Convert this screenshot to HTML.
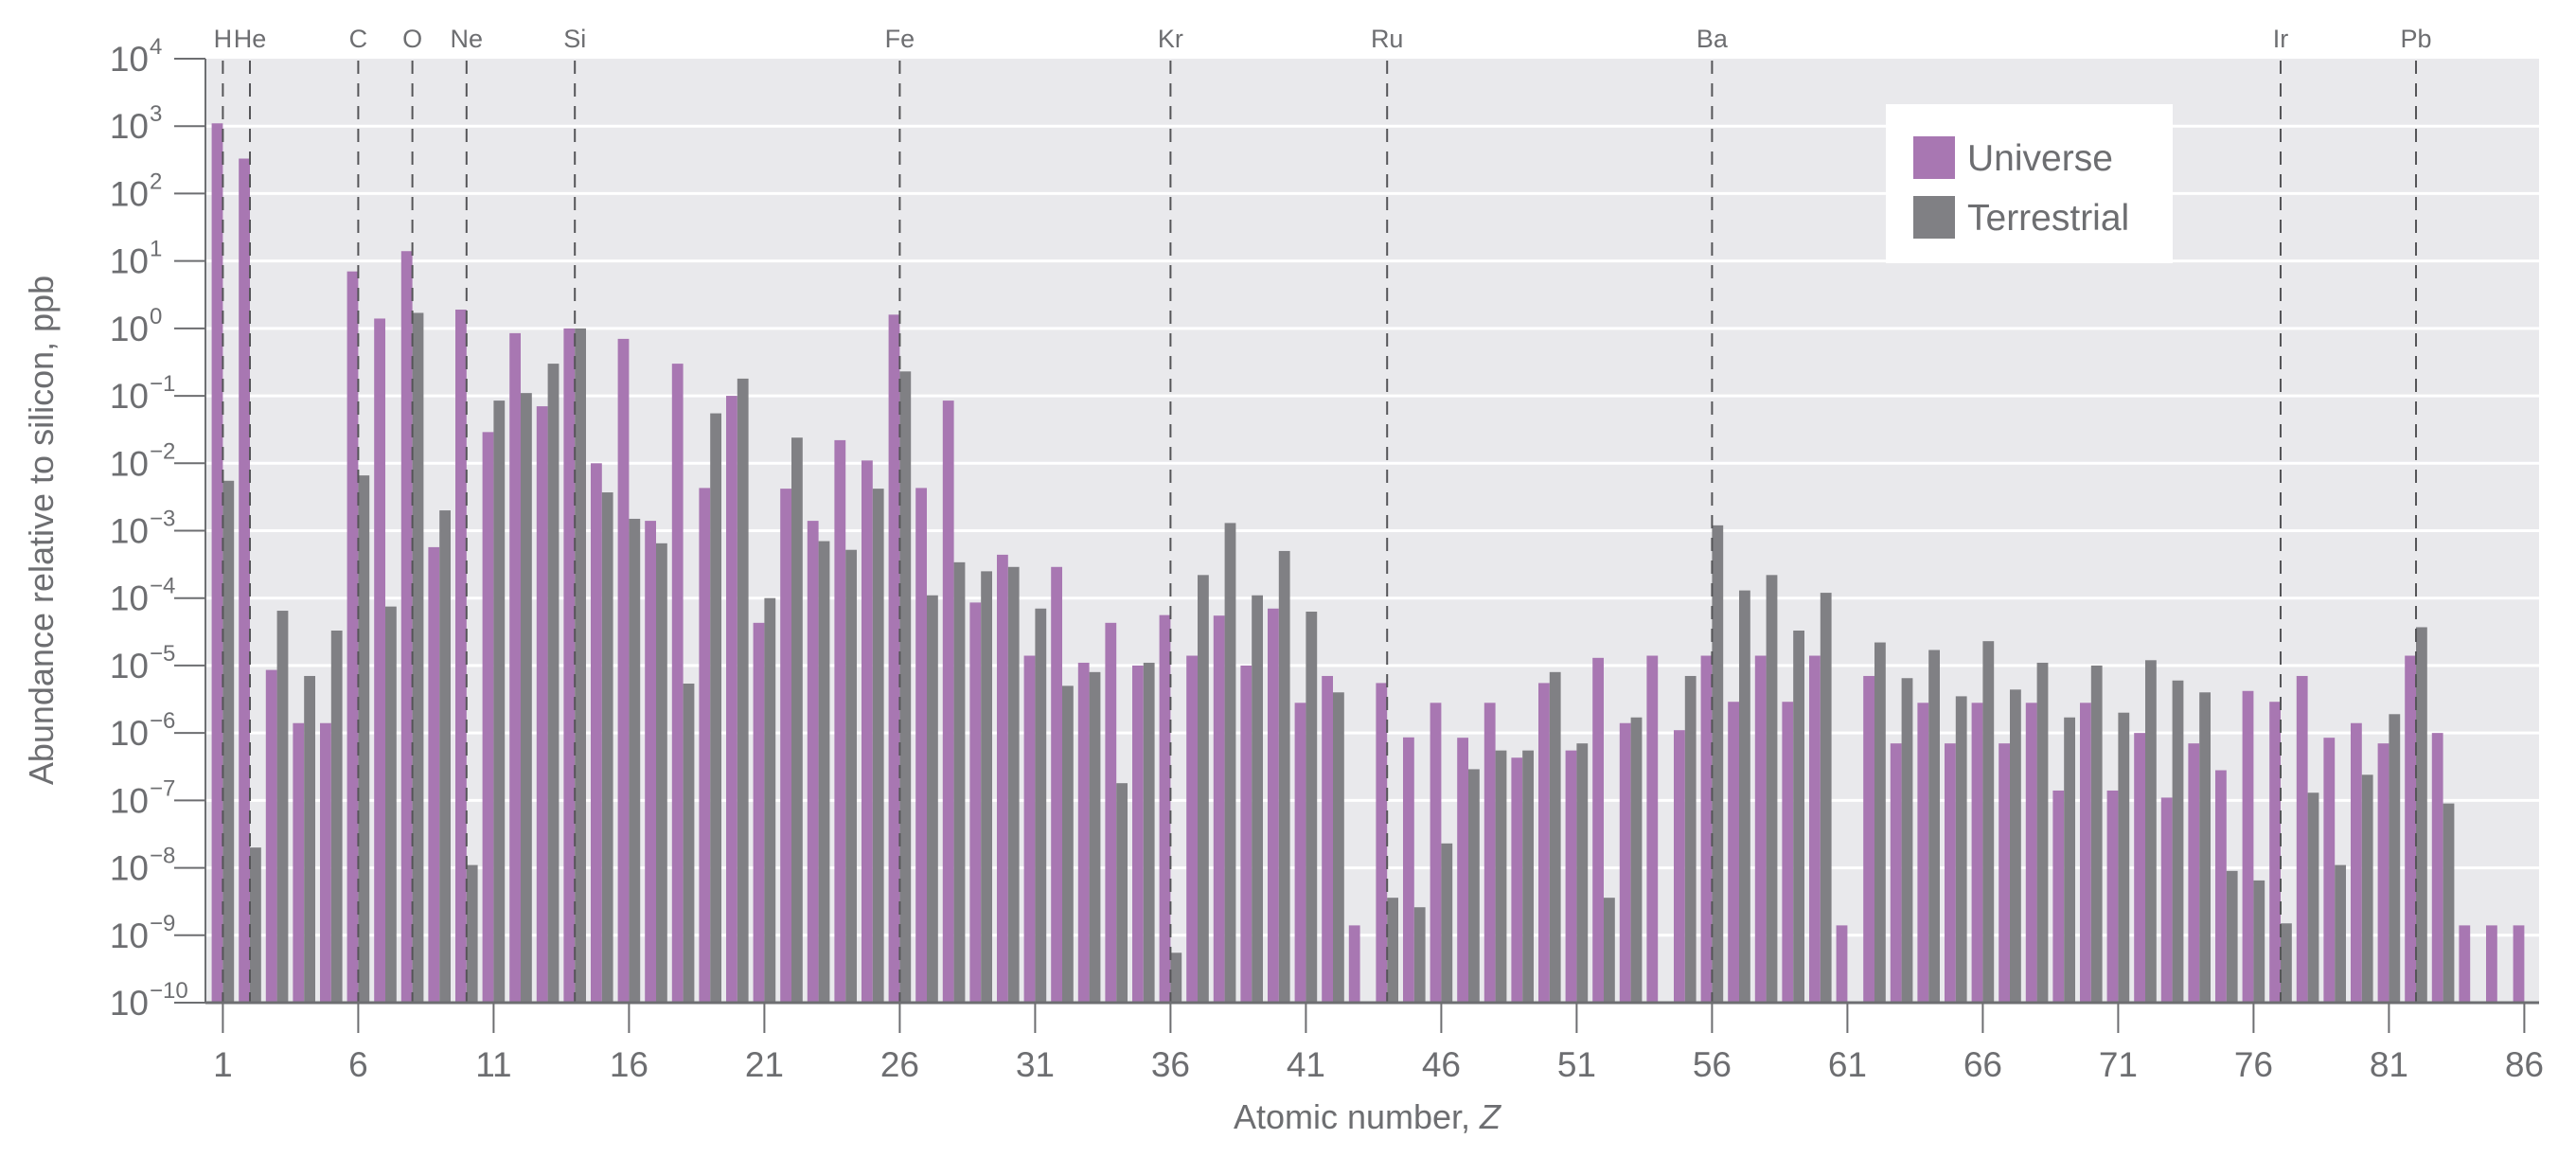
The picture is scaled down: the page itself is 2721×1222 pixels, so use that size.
<!DOCTYPE html>
<html><head><meta charset="utf-8"><style>
html,body{margin:0;padding:0;background:#fff;}
svg{display:block;font-family:"Liberation Sans",sans-serif;}
</style></head><body>
<svg id="chart" width="2721" height="1222" viewBox="0 0 2721 1222" xmlns="http://www.w3.org/2000/svg">
<rect x="217" y="62" width="2465" height="997" fill="#e9e9ec"/>
<g id="grid"></g><g id="bars"></g><g id="marks"></g><g id="axes"></g>
<text x="0" y="0" transform="translate(56,560) rotate(-90)" text-anchor="middle" font-size="36" fill="#6d6e71">Abundance relative to silicon, ppb</text>
<text x="1444" y="1192" text-anchor="middle" font-size="36" fill="#6d6e71">Atomic number, <tspan font-style="italic">Z</tspan></text>
<g>
<rect x="1992" y="110" width="303" height="168" fill="#ffffff"/>
<rect x="2021" y="144" width="44" height="45" fill="#a877b2"/>
<text x="2078" y="180" font-size="39" fill="#6d6e71">Universe</text>
<rect x="2021" y="207" width="44" height="45" fill="#808084"/>
<text x="2078" y="243" font-size="39" fill="#6d6e71">Terrestrial</text>
</g>
</svg>
<script>
const zValues = Array.from({length:86},(_, i)=>i+1);
const universe = [1100,330,8.6e-6,1.4e-6,1.4e-6,7,1.4,14,5.7e-4,1.9,
2.9e-2,0.85,7e-2,1,1e-2,0.7,1.4e-3,0.3,4.3e-3,0.1,
4.3e-5,4.2e-3,1.4e-3,2.2e-2,1.1e-2,1.6,4.3e-3,8.5e-2,8.6e-5,4.4e-4,
1.4e-5,2.9e-4,1.1e-5,4.3e-5,1e-5,5.6e-5,1.4e-5,5.5e-5,1e-5,7e-5,
2.8e-6,7e-6,1.4e-9,5.5e-6,8.6e-7,2.8e-6,8.5e-7,2.8e-6,4.3e-7,5.5e-6,
5.5e-7,1.3e-5,1.4e-6,1.4e-5,1.1e-6,1.4e-5,2.9e-6,1.4e-5,2.9e-6,1.4e-5,
1.4e-9,7e-6,7e-7,2.8e-6,7e-7,2.8e-6,7e-7,2.8e-6,1.4e-7,2.8e-6,
1.4e-7,1e-6,1.1e-7,7e-7,2.8e-7,4.2e-6,2.9e-6,7e-6,8.5e-7,1.4e-6,
7e-7,1.4e-5,1e-6,1.4e-9,1.4e-9,1.4e-9];
const terrestrial = [5.5e-3,2e-8,6.5e-5,7e-6,3.3e-5,6.6e-3,7.5e-5,1.7,2e-3,1.1e-8,
8.5e-2,0.11,0.3,1,3.7e-3,1.5e-3,6.5e-4,5.4e-6,5.5e-2,0.18,
1e-4,2.4e-2,7e-4,5.2e-4,4.2e-3,0.23,1.1e-4,3.4e-4,2.5e-4,2.9e-4,
7e-5,5e-6,8e-6,1.8e-7,1.1e-5,5.5e-10,2.2e-4,1.3e-3,1.1e-4,5e-4,
6.3e-5,4e-6,null,3.6e-9,2.6e-9,2.3e-8,2.9e-7,5.5e-7,5.5e-7,8e-6,
7e-7,3.6e-9,1.7e-6,null,7e-6,1.2e-3,1.3e-4,2.2e-4,3.3e-5,1.2e-4,
null,2.2e-5,6.5e-6,1.7e-5,3.5e-6,2.3e-5,4.4e-6,1.1e-5,1.7e-6,1e-5,
2e-6,1.2e-5,6e-6,4e-6,9e-9,6.5e-9,1.5e-9,1.3e-7,1.1e-8,2.4e-7,
1.9e-6,3.7e-5,9e-8,null,null,null];
const elementLabels = ["H","He","C","O","Ne","Si","Fe","Kr","Ru","Ba","Ir","Pb"];
const elementZ = [1,2,6,8,10,14,26,36,44,56,77,82];
const xTicks = [1,6,11,16,21,26,31,36,41,46,51,56,61,66,71,76,81,86];
const yExponents = [4,3,2,1,0,-1,-2,-3,-4,-5,-6,-7,-8,-9,-10];

const NS="http://www.w3.org/2000/svg";
const L=217,R=2682,T=62,B=1059;
const xZ = z => 235.4 + (z-1)*28.6;
const yV = v => T + (4 - Math.log10(v)) * (B-T)/14;
const BW=11.8;
function mk(tag, parent, attrs){const e=document.createElementNS(NS,tag);for(const k in attrs)e.setAttribute(k,attrs[k]);document.getElementById(parent).appendChild(e);return e;}

yExponents.forEach(ex=>{
  const y=yV(Math.pow(10,ex));
  if(ex<4&&ex>-10){const g=mk('line','grid',{x1:L,x2:R,y1:y,y2:y,stroke:'#ffffff','stroke-width':3});
  
  }
  const t=mk('line','axes',{x1:184,x2:L,y1:y,y2:y,stroke:'#6d6e71','stroke-width':2});
  
  
  const lb=mk('text','axes',{x:157,y:y+13,'text-anchor':'end','font-size':37,fill:'#6d6e71'});
  
  
  lb.textContent='10';
  const sp=mk('text','axes',{x:158,y:y-5,'text-anchor':'start','font-size':24,fill:'#6d6e71'});
  
  
  sp.textContent=String(ex).replace('-','\u2212');
});

zValues.forEach((z,i)=>{
  const x=xZ(z);
  if(universe[i]!=null){const y=yV(universe[i]);
    const b=mk('rect','bars',{x:x-BW,y:y,width:BW,height:B-y,fill:'#a877b2'});
    
    }
  if(terrestrial[i]!=null){const y=yV(terrestrial[i]);
    const b=mk('rect','bars',{x:x,y:y,width:BW,height:B-y,fill:'#808084'});
    
    }
});

elementZ.forEach((z,i)=>{
  const x=xZ(z);
  const d=mk('line','marks',{x1:x,x2:x,y1:T+2,y2:B,stroke:'#555558','stroke-width':2,'stroke-dasharray':'14,10'});
  
  
  const t=mk('text','marks',{x:x,y:50,'text-anchor':'middle','font-size':27,fill:'#6d6e71'});
  
  
  t.textContent=elementLabels[i];
});

const ax=mk('line','axes',{x1:L,x2:R,y1:B,y2:B,stroke:'#6d6e71','stroke-width':3});


const ay=mk('line','axes',{x1:L,x2:L,y1:T,y2:B,stroke:'#6d6e71','stroke-width':2});


xTicks.forEach(z=>{
  const x=xZ(z);
  const t=mk('line','axes',{x1:x,x2:x,y1:B,y2:1091,stroke:'#6d6e71','stroke-width':2});
  
  
  const l=mk('text','axes',{x:x,y:1137,'text-anchor':'middle','font-size':37,fill:'#6d6e71'});
  
  
  l.textContent=String(z);
});
</script>
</body></html>
